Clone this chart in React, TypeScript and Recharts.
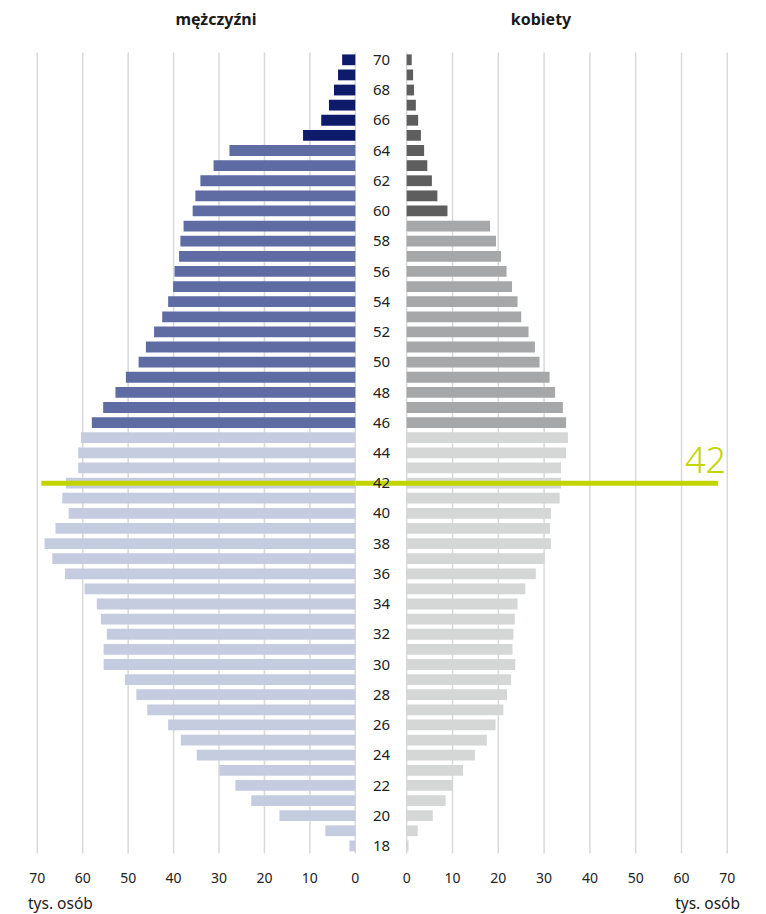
import { Bar, BarChart, CartesianGrid, Cell, ReferenceLine, XAxis, YAxis } from "recharts";

// age groups, top (70) to bottom (18)
const ages = [
  70, 69, 68, 67, 66, 65, 64, 63, 62, 61, 60, 59, 58, 57, 56, 55, 54, 53, 52, 51, 50, 49, 48, 47, 46, 45,
  44, 43, 42, 41, 40, 39, 38, 37, 36, 35, 34, 33, 32, 31, 30, 29, 28, 27, 26, 25, 24, 23, 22, 21, 20, 19, 18,
];

// tys. osób
const men = [
  2.9, 3.8, 4.7, 5.8, 7.5, 11.5, 27.7, 31.2, 34.1, 35.2, 35.8, 37.8, 38.5, 38.8, 39.8, 40.1, 41.2, 42.5, 44.3,
  46.1, 47.7, 50.5, 52.8, 55.5, 58.0, 60.4, 61.0, 61.0, 63.7, 64.5, 63.1, 66.0, 68.4, 66.7, 63.9, 59.6, 56.9,
  56.0, 54.7, 55.4, 55.4, 50.7, 48.2, 45.8, 41.2, 38.4, 34.9, 29.9, 26.4, 22.9, 16.7, 6.6, 1.3,
];

const women = [
  1.1, 1.4, 1.6, 2.0, 2.5, 3.1, 3.8, 4.5, 5.5, 6.7, 8.9, 18.2, 19.5, 20.6, 21.8, 23.0, 24.2, 25.0, 26.6, 28.0,
  29.0, 31.2, 32.4, 34.1, 34.8, 35.2, 34.8, 33.7, 33.7, 33.4, 31.5, 31.3, 31.5, 30.1, 28.2, 25.9, 24.2, 23.6,
  23.3, 23.1, 23.7, 22.8, 21.9, 21.1, 19.4, 17.5, 14.9, 12.3, 10.1, 8.5, 5.7, 2.4, 0.4,
];

const xTicks = [0, 10, 20, 30, 40, 50, 60, 70];
const markedAge = 42;

const data = ages.map((age, i) => ({ age, men: men[i], women: women[i] }));

const FONT = "'Noto Sans', sans-serif";
const GRID = "#d9d9d9";
const GREEN = "#c3d500";

const menColor = (age: number) => (age >= 65 ? "#0e1b6b" : age >= 46 ? "#5f6ba3" : "#c6cce0");
const womenColor = (age: number) => (age >= 60 ? "#5e5e5e" : age >= 46 ? "#a6a7a9" : "#d5d6d6");

const ValueTick = ({ x, payload }: any) => (
  <text x={x} y={883} textAnchor="middle" fontSize={14} fontFamily={FONT} fill="#222">
    {payload.value}
  </text>
);

const AgeTick = ({ y, payload }: any) =>
  payload.value % 2 === 0 ? (
    <text x={25.5} y={y} dy={5} textAnchor="middle" fontSize={15} fontFamily={FONT} fill="#222">
      {payload.value}
    </text>
  ) : (
    <g />
  );

const App = () => {
  return (
    <div style={{ position: "relative", width: 766, height: 914, background: "#fff", fontFamily: FONT }}>
      <style>{"body{margin:0}"}</style>

      <div style={{ position: "absolute", left: 0, top: 0, width: 360 }}>
        <BarChart
          width={360}
          height={914}
          layout="vertical"
          data={data}
          margin={{ top: 52.4, right: 4.7, left: 37.3, bottom: 30.4 }}
          barSize={10.8}
        >
          <CartesianGrid horizontal={false} stroke={GRID} strokeWidth={1.5} />
          <XAxis
            type="number"
            domain={[0, 70]}
            ticks={xTicks}
            reversed
            axisLine={false}
            tickLine={false}
            height={30}
            tick={<ValueTick />}
            interval={0}
          />
          <YAxis type="category" dataKey="age" hide />
          <Bar dataKey="men" isAnimationActive={false}>
            {data.map((d) => (
              <Cell key={d.age} fill={menColor(d.age)} />
            ))}
          </Bar>
          <ReferenceLine
            segment={[
              { x: 69.1, y: markedAge },
              { x: 0, y: markedAge },
            ]}
            stroke={GREEN}
            strokeWidth={5}
            ifOverflow="visible"
          />
        </BarChart>
      </div>

      <div style={{ position: "absolute", left: 356, top: 0, width: 410 }}>
        <BarChart
          width={410}
          height={914}
          layout="vertical"
          data={data}
          margin={{ top: 52.4, right: 38.7, left: 0, bottom: 30.4 }}
          barSize={10.8}
        >
          <CartesianGrid horizontal={false} stroke={GRID} strokeWidth={1.5} />
          <XAxis
            type="number"
            domain={[0, 70]}
            ticks={xTicks}
            axisLine={false}
            tickLine={false}
            height={30}
            tick={<ValueTick />}
            interval={0}
          />
          <YAxis
            type="category"
            dataKey="age"
            width={50.7}
            axisLine={false}
            tickLine={false}
            interval={0}
            tick={<AgeTick />}
          />
          <Bar dataKey="women" isAnimationActive={false}>
            {data.map((d) => (
              <Cell key={d.age} fill={womenColor(d.age)} />
            ))}
          </Bar>
          <ReferenceLine
            segment={[
              { x: -11.2, y: markedAge },
              { x: 68, y: markedAge },
            ]}
            stroke={GREEN}
            strokeWidth={5}
            ifOverflow="visible"
          />
        </BarChart>
      </div>

      <div style={{ position: "absolute", left: 116, width: 200, top: 8, textAlign: "center", fontWeight: 700, fontSize: 16, color: "#1a1a1a" }}>
        mężczyźni
      </div>
      <div style={{ position: "absolute", left: 441, width: 200, top: 8, textAlign: "center", fontWeight: 700, fontSize: 16, color: "#1a1a1a" }}>
        kobiety
      </div>
      <div style={{ position: "absolute", right: 40, top: 438, fontSize: 36, fontWeight: 300, color: GREEN, lineHeight: "44px" }}>
        {markedAge}
      </div>
      <div style={{ position: "absolute", left: 28, top: 893, fontSize: 15.5, color: "#222", lineHeight: "20px" }}>
        tys. osób
      </div>
      <div style={{ position: "absolute", right: 26, top: 893, fontSize: 15.5, color: "#222", lineHeight: "20px" }}>
        tys. osób
      </div>
    </div>
  );
};

export default App;
